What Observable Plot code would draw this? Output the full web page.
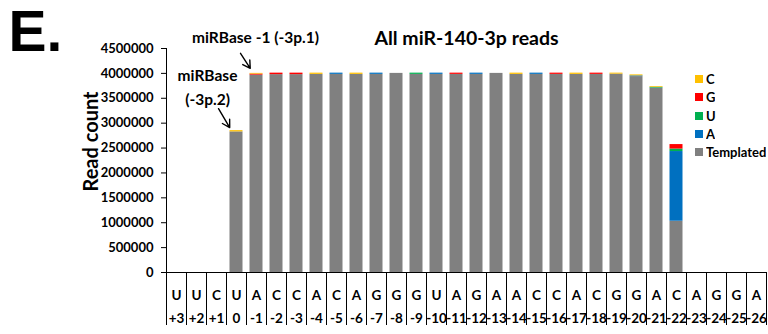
<!DOCTYPE html>
<html><head><meta charset="utf-8">
<script src="https://cdn.jsdelivr.net/npm/d3@7"></script>
<script src="https://cdn.jsdelivr.net/npm/@observablehq/plot@0.6"></script>
<style>
body{margin:0;background:#fff;}
#wrap{position:relative;width:768px;height:334px;overflow:hidden;}
#legend{position:absolute;left:695px;top:70px;}
.lg-swatches{font-family:Lato,sans-serif;font-weight:bold;font-size:13px;margin:0 !important;color:#000;}
.lg-swatch{height:18.3px;padding:0 !important;}
.lg-swatch > svg{margin-right:3px !important;}
</style></head><body>
<div id="wrap"><div id="chart"></div><div id="legend"></div></div>
<script>
// Positions relative to the miRBase 3' end, and nucleotide at each position
const positions = ["+3","+2","+1","0","-1","-2","-3","-4","-5","-6","-7","-8","-9","-10","-11","-12","-13","-14","-15","-16","-17","-18","-19","-20","-21","-22","-23","-24","-25","-26"];
const bases = ["U","U","C","U","A","C","C","A","C","A","G","G","G","U","A","G","A","A","C","C","A","C","G","G","A","C","A","G","G","A"];

// Read counts per position (estimated from the figure)
const templated = [0,0,0,2825000,3965000,3975000,3975000,3980000,3980000,3980000,3980000,4000000,3980000,3980000,3980000,3980000,4000000,3980000,3980000,3980000,3980000,3980000,3985000,3935000,3705000,1030000,0,0,0,0];
const countA = [0,0,0,0,0,0,0,0,25000,0,25000,0,0,25000,0,25000,0,0,25000,0,0,0,0,15000,0,1400000,0,0,0,0];
const countU = [0,0,0,0,0,0,0,0,0,0,0,0,25000,0,0,0,0,0,0,0,0,0,0,0,15000,50000,0,0,0,0];
const countG = [0,0,0,0,20000,30000,30000,0,0,0,0,0,0,0,25000,0,0,0,0,25000,0,25000,0,0,0,90000,0,0,0,0];
const countC = [0,0,0,25000,15000,0,0,25000,0,25000,0,0,0,0,0,0,0,25000,0,0,25000,0,20000,20000,15000,0,0,0,0,0];

const legendOrder = ["C","G","U","A","Templated"];
const colors = ["#FFC000","#FF0000","#00B050","#0070C0","#808080"];
const yTicks = [0,500000,1000000,1500000,2000000,2500000,3000000,3500000,4000000,4500000];

const series = {Templated: templated, A: countA, U: countU, G: countG, C: countC};
const rows = [];
for (const comp of ["Templated","A","U","G","C"]) {
  positions.forEach((p, i) => { if (series[comp][i] > 0) rows.push({pos: p, comp, value: series[comp][i]}); });
}
const total = p => { const i = positions.indexOf(p); return templated[i] + countA[i] + countU[i] + countG[i] + countC[i]; };

const arrows = [
  {from: "0", to: "-1", rise: 620000, dx: -3, insetStart: 12.9, insetEnd: 6},
  {from: "+1", to: "0", rise: 680000, dx: -5, insetStart: 13.8, insetEnd: 3.5}
];

const chart = Plot.plot({
  width: 768, height: 334,
  marginTop: 48, marginBottom: 62, marginLeft: 166, marginRight: 2,
  style: {fontFamily: "Lato, sans-serif", fontWeight: "bold", fontSize: "13px", color: "#000", background: "#fff", overflow: "visible"},
  x: {domain: positions, paddingInner: 0.35, paddingOuter: 0.175, round: false, axis: null},
  y: {domain: [0, 4500000], ticks: yTicks, tickFormat: d3.format("d"), tickSize: 5, tickPadding: 8, label: null},
  color: {domain: legendOrder, range: colors},
  marks: [
    Plot.barY(rows, {x: "pos", y: "value", fill: "comp"}),
    Plot.ruleY([0], {stroke: "#000"}),
    Plot.ruleX([positions[0]], {dx: -10, stroke: "#000"}),
    Plot.ruleX(positions, {dx: -10, insetTop: 224, insetBottom: -53, stroke: "#000"}),
    Plot.ruleX([positions[positions.length - 1]], {dx: 10, insetTop: 224, insetBottom: -53, stroke: "#000"}),
    Plot.text(bases, {x: (d, i) => positions[i], frameAnchor: "bottom", lineAnchor: "middle", dy: 23, fontSize: 13.5}),
    Plot.text(positions, {x: d => d, frameAnchor: "bottom", lineAnchor: "middle", dy: 46.5, fontSize: 13.5}),
    Plot.text(["Read count"], {frameAnchor: "left", textAnchor: "middle", lineAnchor: "middle", rotate: -90, dx: -75, dy: -19, fontSize: 20}),
    Plot.text(["All miR-140-3p reads"], {frameAnchor: "top", lineAnchor: "middle", dy: -10, fontSize: 19.5}),
    Plot.text(["E."], {frameAnchor: "top-left", textAnchor: "start", lineAnchor: "middle", dx: -158, dy: -16, fontSize: 57, fontFamily: "Liberation Sans, Arial, sans-serif"}),
    Plot.text(["miRBase -1 (-3p.1)"], {x: () => "-1", frameAnchor: "top", lineAnchor: "middle", dx: -1, dy: -10, fontSize: 15.5}),
    Plot.text(["miRBase\n(-3p.2)"], {x: () => "+1", frameAnchor: "top", lineAnchor: "middle", dx: -9, dy: 37, lineHeight: 1.5, fontSize: 15.5}),
    ...arrows.map(a => Plot.arrow([a], {
      x1: d => d.from, x2: d => d.to,
      y1: d => total(d.to) + d.rise, y2: d => total(d.to),
      dx: a.dx, insetStart: a.insetStart, insetEnd: a.insetEnd,
      stroke: "#000", strokeWidth: 1.4, headLength: 9
    }))
  ]
});
document.getElementById("chart").append(chart);
const legend = Plot.legend({color: {domain: legendOrder, range: colors}, legend: "swatches", columns: 1, swatchWidth: 8, swatchHeight: 8, className: "lg"});
document.getElementById("legend").append(legend);
</script>
</body></html>
